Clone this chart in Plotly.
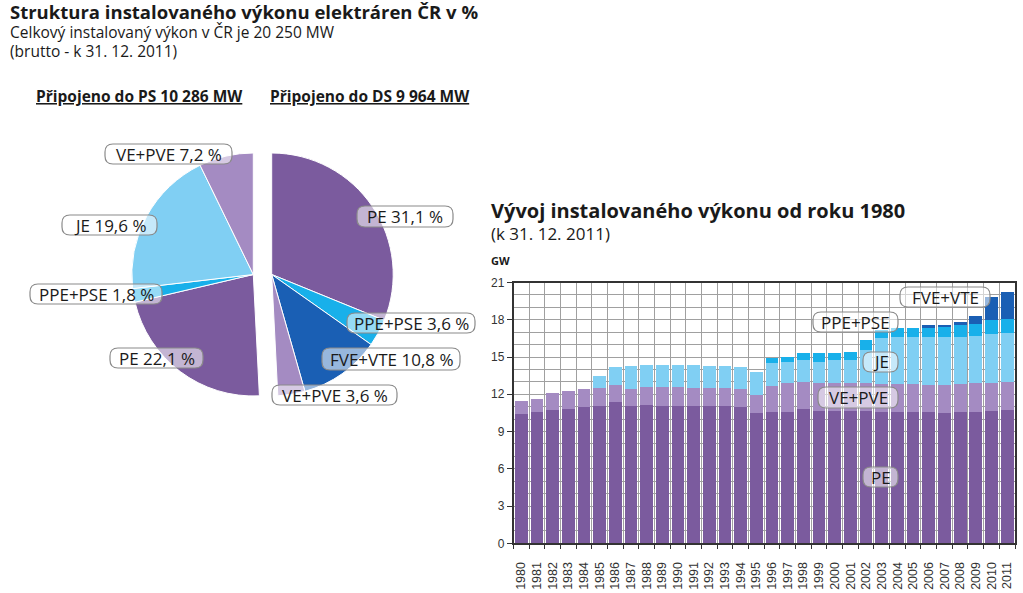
import plotly.graph_objects as go

W, H = 1023, 593

# ---------------- data ----------------
years = list(range(1980, 2012))
year_labels = [str(y) for y in years]

pe = [10.42, 10.55, 10.71, 10.82, 10.98, 11.09, 11.41, 11.09, 11.17, 11.09, 11.09, 11.09,
      11.04, 11.04, 10.96, 10.47, 10.61, 10.61, 10.79, 10.69, 10.69, 10.69, 10.69, 10.61,
      10.61, 10.61, 10.55, 10.53, 10.61, 10.61, 10.69, 10.74]
ve_pve = [1.05, 1.08, 1.43, 1.48, 1.45, 1.42, 1.32, 1.32, 1.40, 1.48, 1.48, 1.42,
          1.47, 1.45, 1.45, 1.48, 2.09, 2.28, 2.18, 2.25, 2.20, 2.20, 2.20, 2.23,
          2.20, 2.20, 2.20, 2.22, 2.20, 2.28, 2.25, 2.28]
je = [0, 0, 0, 0, 0, 0.97, 1.45, 1.90, 1.82, 1.82, 1.82, 1.88,
      1.80, 1.82, 1.82, 1.83, 1.85, 1.74, 1.80, 1.69, 1.88, 1.88, 2.68, 3.67,
      3.84, 3.84, 3.90, 3.85, 3.84, 3.84, 3.90, 3.90]
ppe_pse = [0, 0, 0, 0, 0, 0, 0, 0, 0, 0, 0, 0,
           0, 0, 0, 0, 0.41, 0.41, 0.54, 0.68, 0.59, 0.67, 0.81, 0.68,
           0.67, 0.72, 0.80, 0.80, 0.94, 0.94, 1.15, 1.13]
fve_vte = [0, 0, 0, 0, 0, 0, 0, 0, 0, 0, 0, 0,
           0, 0, 0, 0, 0, 0, 0, 0, 0, 0, 0, 0,
           0, 0, 0.11, 0.19, 0.19, 0.64, 1.83, 2.20]

# pie: connected to transmission system (PS) and distribution system (DS)
ps_labels = ["PE", "PPE+PSE", "JE", "VE+PVE"]
ps_values = [22.1, 1.8, 19.6, 7.2]
ds_labels = ["PE", "PPE+PSE", "FVE+VTE", "VE+PVE"]
ds_values = [31.1, 3.6, 10.8, 3.6]

C_PE = "#7b5b9e"
C_VE = "#a48bc2"
C_JE = "#80cff3"
C_PPE = "#18b0ea"
C_FVE = "#1a5fb4"

ps_colors = [C_PE, C_PPE, C_JE, C_VE]
ds_colors = [C_PE, C_PPE, C_FVE, C_VE]

# ---------------- helpers ----------------
def X(x):
    return x / W

def Y(y):
    return 1 - y / H

def rrect(x0, y0, x1, y1, r=8):
    p = (f"M {X(x0+r)},{Y(y0)} L {X(x1-r)},{Y(y0)} Q {X(x1)},{Y(y0)} {X(x1)},{Y(y0+r)} "
         f"L {X(x1)},{Y(y1-r)} Q {X(x1)},{Y(y1)} {X(x1-r)},{Y(y1)} "
         f"L {X(x0+r)},{Y(y1)} Q {X(x0)},{Y(y1)} {X(x0)},{Y(y1-r)} "
         f"L {X(x0)},{Y(y0+r)} Q {X(x0)},{Y(y0)} {X(x0+r)},{Y(y0)} Z")
    return p

fig = go.Figure()

# ---------------- pies ----------------
R = 121.5
cy = 274.5
left_cx, right_cx = 253.3, 271.7

def pie_domain(cx):
    return dict(x=[X(cx - R), X(cx + R)], y=[Y(cy + R), Y(cy - R)])

transparent = "rgba(0,0,0,0)"
fig.add_trace(go.Pie(
    values=[sum(ds_values)] + ps_values,
    labels=["_other"] + ps_labels,
    marker=dict(colors=[transparent] + ps_colors,
                line=dict(color=[transparent] + ["white"] * 4, width=[0, 1, 1, 1, 1])),
    sort=False, direction="clockwise", rotation=0,
    textinfo="none", hoverinfo="skip", showlegend=False, automargin=False,
    domain=pie_domain(left_cx),
))
fig.add_trace(go.Pie(
    values=ds_values + [sum(ps_values)],
    labels=ds_labels + ["_other"],
    marker=dict(colors=ds_colors + [transparent],
                line=dict(color=["white"] * 4 + [transparent], width=[1, 1, 1, 1, 0])),
    sort=False, direction="clockwise", rotation=0,
    textinfo="none", hoverinfo="skip", showlegend=False, automargin=False,
    domain=pie_domain(right_cx),
))

# ---------------- bars ----------------
for name, vals, col in [("PE", pe, C_PE), ("VE+PVE", ve_pve, C_VE), ("JE", je, C_JE),
                        ("PPE+PSE", ppe_pse, C_PPE), ("FVE+VTE", fve_vte, C_FVE)]:
    fig.add_trace(go.Bar(x=years, y=vals, name=name, marker=dict(color=col, line=dict(width=0)),
                         showlegend=False, xaxis="x", yaxis="y"))

grid_c = "#a0a0a0"
fig.update_layout(
    width=W, height=H, autosize=False,
    margin=dict(l=0, r=0, t=0, b=0, pad=0, autoexpand=False),
    paper_bgcolor="white", plot_bgcolor="white",
    barmode="stack", bargap=0.19,
    font=dict(family="Open Sans", color="#222"),
    xaxis=dict(domain=[X(513.5), X(1015)], range=[1979.5, 2011.5], automargin=False,
               tickmode="array", tickvals=years, ticktext=year_labels, tickangle=-90,
               tickfont=dict(family="Liberation Sans", size=12.5, color="#333"),
               ticks="outside", ticklen=12, tickcolor="rgba(0,0,0,0)",
               showgrid=False, zeroline=False,
               showline=True, linecolor="#333", linewidth=1.5, mirror=True,
               minor=dict(tickmode="linear", tick0=1979.5, dtick=1, showgrid=True,
                          gridcolor=grid_c, gridwidth=1, ticks="outside", ticklen=4,
                          tickcolor="#333")),
    yaxis=dict(domain=[Y(543.3), Y(282.5)], range=[0, 21], tick0=0, dtick=3, automargin=False,
               tickfont=dict(family="Liberation Sans", size=12, color="#333"),
               ticks="outside", ticklen=5, tickcolor="#333",
               showgrid=True, gridcolor=grid_c, gridwidth=1, zeroline=False,
               showline=True, linecolor="#333", linewidth=1.5, mirror=True,
               minor=dict(dtick=1, showgrid=True, gridcolor=grid_c, gridwidth=1)),
)

# ---------------- texts ----------------
ann = []
def text(x, y, s, size, bold=False, anchor="left", family="Open Sans", color="#1a1a1a",
         yanchor="middle"):
    ann.append(dict(x=X(x), y=Y(y), xref="paper", yref="paper", text=(f"<b>{s}</b>" if bold else s),
                    showarrow=False, xanchor=anchor, yanchor=yanchor, align="left",
                    font=dict(size=size, family=family, color=color)))

header = ("<span style='font-size:18.5px'><b>Struktura instalovaného výkonu elektráren ČR v %</b></span><br>"
          "<span style='font-size:15.5px'>Celkový instalovaný výkon v ČR je 20 250 MW</span><br>"
          "<span style='font-size:15.5px'>(brutto - k 31. 12. 2011)</span>")
text(8, 30, header, 14.5)
text(34, 96, "<u>Připojeno do PS 10 286 MW</u>", 15.5, bold=True)
text(268, 96, "<u>Připojeno do DS 9 964 MW</u>", 15.5, bold=True)

text(489, 210, "Vývoj instalovaného výkonu od roku 1980", 20, bold=True)
text(489, 234, "(k 31. 12. 2011)", 17)
text(489, 260, "GW", 11, bold=True)

shapes = []
boxes = [
    # pie labels: (x0, y0, x1, y1, text, size)
    (105, 144, 232, 164, "VE+PVE 7,2 %", 17),
    (62, 215, 157, 235, "JE 19,6 %", 17),
    (30, 284, 162, 304, "PPE+PSE 1,8 %", 17),
    (110, 348, 203, 368, "PE 22,1 %", 17),
    (357, 206, 453, 227, "PE 31,1 %", 17),
    (347, 313, 475, 333, "PPE+PSE 3,6 %", 17),
    (322, 348, 460, 370, "FVE+VTE 10,8 %", 17),
    (272, 385, 397, 405, "VE+PVE 3,6 %", 17),
    # bar labels
    (900, 287, 990, 307, "FVE+VTE", 17),
    (813, 312, 898, 332, "PPE+PSE", 17),
    (863, 352, 898, 372, "JE", 17),
    (818, 387, 898, 408, "VE+PVE", 17),
    (863, 467, 898, 487, "PE", 17),
]
for x0, y0, x1, y1, s, sz in boxes:
    shapes.append(dict(type="path", path=rrect(x0, y0, x1, y1, 8), xref="paper", yref="paper",
                       fillcolor="rgba(255,255,255,0.55)", line=dict(color="#8a8a8a", width=1.2),
                       layer="above"))
    text((x0 + x1) / 2, (y0 + y1) / 2, s, sz, anchor="center")

fig.update_layout(annotations=ann, shapes=shapes)
fig.write_html("out.html")
